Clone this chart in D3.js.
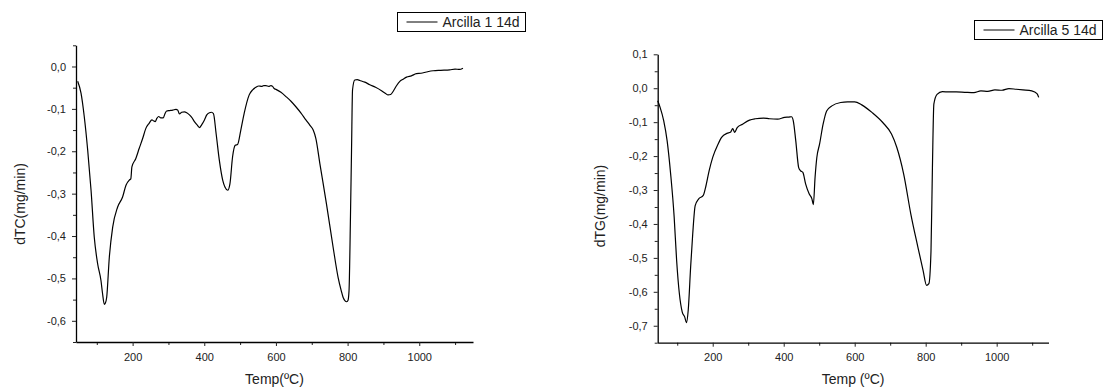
<!DOCTYPE html>
<html>
<head>
<meta charset="utf-8">
<script src="https://cdn.jsdelivr.net/npm/d3@7"></script>
<style>
  body { margin: 0; background: #fff; }
  svg { display: block; font-family: "Liberation Sans", Arial, sans-serif; }
</style>
</head>
<body>
<svg id="chart" width="1104" height="387"></svg>
<script>
// Arcilla 1 14d - dTC curve
const temp1 = [46.7, 56, 65, 74.6, 84, 93, 102.5, 111.7, 116, 121, 124, 127.6, 135, 144.4, 158, 172, 181.5, 190.7, 195, 198, 209, 218.5,
  228, 237, 246, 254, 258, 263, 268, 272.7, 278, 285.7, 290, 295, 303, 312, 321, 326, 330.7, 337, 344.6, 351, 358.6, 365, 372.5,
  380, 386.5, 393, 400.5, 407, 414.4, 420, 425.6, 433, 442, 451.4, 458, 465.4, 471.6, 479, 486.4, 493, 502, 511.5, 525.4,
  535, 544, 552, 560, 566, 572, 580, 586, 590.7, 595, 600, 614, 628, 642, 655.7, 670, 683.6, 695, 704, 711.5, 722.6, 741,
  759.7, 773.6, 782, 787.6, 793, 797, 801, 804, 808, 811, 813.8, 820, 827, 834, 848, 862, 878, 894.6, 905, 913, 920, 927,
  936, 945.8, 955, 964.5, 978, 992, 1005, 1020, 1038.7, 1060, 1085, 1100, 1112, 1122];
const dtc1 = [-0.035, -0.063, -0.118, -0.197, -0.292, -0.403, -0.466, -0.505, -0.535, -0.561, -0.558, -0.545, -0.45, -0.379, -0.332,
  -0.308, -0.28, -0.268, -0.265, -0.237, -0.217, -0.193, -0.17, -0.146, -0.134, -0.126, -0.128, -0.13, -0.122, -0.118, -0.121,
  -0.121, -0.112, -0.105, -0.104, -0.103, -0.101, -0.103, -0.112, -0.108, -0.107, -0.109, -0.114, -0.12, -0.13, -0.138, -0.144,
  -0.137, -0.126, -0.114, -0.109, -0.108, -0.111, -0.158, -0.221, -0.268, -0.285, -0.292, -0.277, -0.213, -0.186, -0.184,
  -0.15, -0.11, -0.067, -0.055, -0.049, -0.046, -0.047, -0.045, -0.045, -0.047, -0.045, -0.047, -0.052, -0.054, -0.061,
  -0.071, -0.082, -0.095, -0.11, -0.126, -0.139, -0.15, -0.17, -0.229, -0.324, -0.427, -0.498, -0.528, -0.545, -0.553,
  -0.555, -0.552, -0.529, -0.355, -0.197, -0.055, -0.032, -0.031, -0.033, -0.037, -0.043, -0.049, -0.057, -0.063, -0.067,
  -0.066, -0.059, -0.046, -0.035, -0.03, -0.025, -0.022, -0.017, -0.016, -0.013, -0.01, -0.009, -0.008, -0.006, -0.007, -0.004];

// Arcilla 5 14d - dTG curve
const temp5 = [45, 52, 62, 71.6, 81.5, 91.4, 98.3, 106, 114, 121, 126, 131, 137.8, 143.7, 150.6, 160.5, 173.3, 180, 190, 200, 215,
  225, 240, 250, 256.3, 262, 269, 284, 303.7, 320, 343, 360, 382.7, 402.5, 415, 422, 427, 434, 442, 447, 454, 461.7, 471.6,
  479.5, 483.5, 488.4, 493.3, 501, 511, 521, 535.8, 560.5, 580, 600, 619.8, 649.4, 679, 703.7, 718.5, 738, 758, 778, 792.6,
  802.5, 809, 815, 819, 823, 832, 847, 866, 886, 910, 936, 955.6, 975, 995, 1015, 1034.6, 1055, 1074, 1098.8, 1113.6, 1118.5];
const dtg5 = [-0.037, -0.057, -0.096, -0.155, -0.253, -0.38, -0.507, -0.605, -0.659, -0.674, -0.691, -0.654, -0.527, -0.429,
  -0.346, -0.326, -0.316, -0.292, -0.243, -0.204, -0.165, -0.145, -0.133, -0.13, -0.119, -0.13, -0.116, -0.106, -0.094,
  -0.09, -0.088, -0.09, -0.091, -0.086, -0.085, -0.084, -0.096, -0.155, -0.233, -0.243, -0.248, -0.282, -0.311, -0.326,
  -0.343, -0.262, -0.204, -0.165, -0.106, -0.067, -0.052, -0.042, -0.04, -0.04, -0.049, -0.072, -0.101, -0.135, -0.174,
  -0.253, -0.37, -0.468, -0.537, -0.581, -0.576, -0.478, -0.233, -0.047, -0.018, -0.01, -0.011, -0.011, -0.012, -0.013,
  -0.008, -0.009, -0.005, -0.006, -0.001, -0.003, -0.005, -0.008, -0.016, -0.027];

const xTicks = [200, 400, 600, 800, 1000];
const xMinor = [100, 300, 500, 700, 900, 1100];

const panels = [
  { temps: temp1, vals: dtc1, xDomain: [42, 1150], xRange: [76, 473], yDomain: [-0.65, 0.05], yRange: [342, 45.3],
    yTicks: [0, -0.1, -0.2, -0.3, -0.4, -0.5, -0.6], yLabel: 'dTC(mg/min)', yLabelPos: [20, 204],
    xLabel: 'Temp(ºC)', legend: 'Arcilla 1 14d', legendBox: [397.5, 12.5, 128, 19] },
  { temps: temp5, vals: dtg5, xDomain: [45, 1146], xRange: [657.7, 1048.5], yDomain: [-0.75, 0.1], yRange: [342.7, 54.3],
    yTicks: [0.1, 0, -0.1, -0.2, -0.3, -0.4, -0.5, -0.6, -0.7], yLabel: 'dTG(mg/min)', yLabelPos: [600, 206],
    xLabel: 'Temp (ºC)', legend: 'Arcilla 5 14d', legendBox: [974.5, 20.5, 128, 19] }
];

const svg = d3.select('#chart');
const fmtY = v => d3.format('.1f')(v).replace('.', ',').replace('−', '-');

panels.forEach(p => {
  const x = d3.scaleLinear().domain(p.xDomain).range(p.xRange);
  const y = d3.scaleLinear().domain(p.yDomain).range(p.yRange);
  const g = svg.append('g');

  // minor ticks
  const yMinor = d3.range(Math.round(p.yDomain[0] * 20), Math.round(p.yDomain[1] * 20) + 1)
    .map(k => k / 20).filter(v => !p.yTicks.some(t => Math.abs(t - v) < 1e-9));

  g.append('g')
    .attr('transform', `translate(0,${p.yRange[0]})`)
    .call(d3.axisBottom(x).tickValues(xMinor).tickSize(3).tickFormat(''))
    .call(a => a.select('.domain').remove());
  g.append('g')
    .attr('transform', `translate(${p.xRange[0]},0)`)
    .call(d3.axisLeft(y).tickValues(yMinor).tickSize(3).tickFormat(''))
    .call(a => a.select('.domain').remove());

  const xAxis = g.append('g')
    .attr('transform', `translate(0,${p.yRange[0]})`)
    .call(d3.axisBottom(x).tickValues(xTicks).tickSize(4).tickSizeOuter(0).tickPadding(7).tickFormat(d3.format('d')));
  const yAxis = g.append('g')
    .attr('transform', `translate(${p.xRange[0]},0)`)
    .call(d3.axisLeft(y).tickValues(p.yTicks).tickSize(4).tickSizeOuter(0).tickPadding(6).tickFormat(fmtY));

  [xAxis, yAxis].forEach(a => {
    a.selectAll('text').attr('font-size', 11).attr('fill', '#222').attr('font-family', null);
    a.select('.domain').attr('stroke-width', 1.3);
  });
  g.selectAll('.tick line').attr('stroke', '#222');

  const line = d3.line()
    .x((d, i) => x(p.temps[i]))
    .y(d => y(d))
    .curve(d3.curveMonotoneX);
  g.append('path')
    .datum(p.vals)
    .attr('fill', 'none')
    .attr('stroke', '#000')
    .attr('stroke-width', 1.2)
    .attr('d', line);

  g.append('text')
    .attr('x', (p.xRange[0] + p.xRange[1]) / 2)
    .attr('y', 384)
    .attr('text-anchor', 'middle')
    .attr('font-size', 14)
    .attr('fill', '#222')
    .text(p.xLabel);

  g.append('text')
    .attr('transform', `translate(${p.yLabelPos[0] + 5},${p.yLabelPos[1]}) rotate(-90)`)
    .attr('text-anchor', 'middle')
    .attr('font-size', 14)
    .attr('fill', '#222')
    .text(p.yLabel);

  const [lx, ly, lw, lh] = p.legendBox;
  g.append('rect')
    .attr('x', lx).attr('y', ly).attr('width', lw).attr('height', lh)
    .attr('fill', '#fff').attr('stroke', '#000').attr('stroke-width', 1);
  g.append('line')
    .attr('x1', lx + 9).attr('x2', lx + 40)
    .attr('y1', ly + lh / 2).attr('y2', ly + lh / 2)
    .attr('stroke', '#000').attr('stroke-width', 1);
  g.append('text')
    .attr('x', lx + 45).attr('y', ly + lh / 2 + 5)
    .attr('font-size', 14)
    .attr('fill', '#222')
    .text(p.legend);
});
</script>
</body>
</html>
